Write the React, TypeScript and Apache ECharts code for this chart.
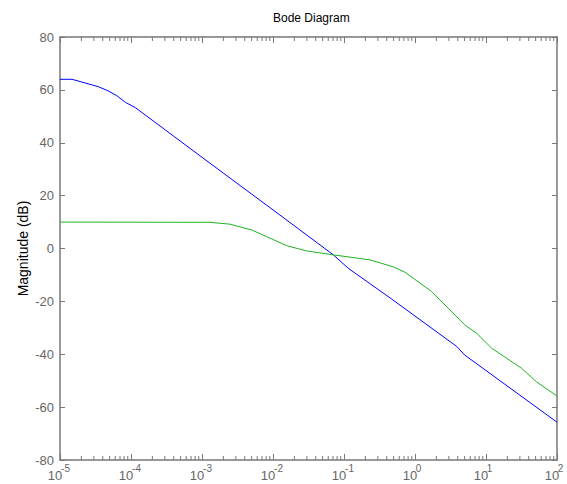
import React, { useEffect, useRef } from "react";
import * as echarts from "echarts";

// Blue curve: frequency (rad/s) and magnitude (dB)
const blueFreq = [1e-5, 1.48e-5, 3.47e-5, 4.79e-5, 6.31e-5, 8.32e-5, 1.15e-4, 1e-3, 1e-2, 7.08e-2, 1.15e-1, 4.68e-1, 3.89, 5.01, 100];
const blueDb = [64, 64, 61.2, 59.6, 57.8, 55.3, 53.3, 34.5, 14.6, -2.4, -7.5, -19.1, -37.1, -40.3, -65.7];

// Green curve
const greenFreq = [1e-5, 1.3e-3, 2.48e-3, 5.01e-3, 8.13e-3, 1.55e-2, 2.95e-2, 7.08e-2, 0.232, 0.49, 0.724, 1.72, 5.01, 7.41, 12.0, 31.6, 51.3, 100];
const greenDb = [10, 9.9, 9.2, 7.0, 4.5, 1.1, -0.9, -2.4, -4.3, -6.9, -9.0, -16.3, -28.9, -32.1, -37.7, -45.3, -50.4, -55.8];

// Axis ticks
const decadeExponents = [-5, -4, -3, -2, -1, 0, 1];
const minorMultipliers = [2, 3, 4, 5, 6, 7, 8, 9];
const minorTicks: number[] = [];
decadeExponents.forEach((e) => minorMultipliers.forEach((m) => minorTicks.push(m * Math.pow(10, e))));

const FONT = "Liberation Sans, Arial, sans-serif";
const AXIS_COLOR = "#777";
const LABEL_COLOR = "#666";

export default function App() {
  const ref = useRef<HTMLDivElement>(null);
  useEffect(() => {
    document.body.style.margin = "0";
    const chart = echarts.init(ref.current!, null, { renderer: "svg" });
    const xCommon = {
      type: "log" as const,
      logBase: 10,
      min: 1e-5,
      max: 1e2,
      splitLine: { show: false },
      axisLine: { show: true, onZero: false, lineStyle: { color: AXIS_COLOR, width: 1.5 } },
      axisTick: { show: true, inside: true, length: 6, lineStyle: { color: AXIS_COLOR } },
    };
    const yCommon = {
      type: "value" as const,
      min: -80,
      max: 80,
      interval: 20,
      splitLine: { show: false },
      axisLine: { show: true, onZero: false, lineStyle: { color: AXIS_COLOR, width: 1.5 } },
      axisTick: { show: true, inside: true, length: 5, lineStyle: { color: AXIS_COLOR } },
    };
    const expOf = (v: number) => Math.round(Math.log10(v));
    chart.setOption({
      animation: false,
      backgroundColor: "#fff",
      title: {
        text: "Bode Diagram",
        left: 268,
        top: 7,
        textStyle: { fontFamily: FONT, fontSize: 12, fontWeight: "normal", color: "#000" },
      },
      grid: { left: 60, right: 10, top: 37, bottom: 24 },
      xAxis: [
        {
          ...xCommon,
          position: "bottom",
          axisLabel: {
            show: true,
            margin: 9,
            showMinLabel: true,
            showMaxLabel: true,
            fontFamily: FONT,
            fontSize: 13,
            color: LABEL_COLOR,
            padding: [0, 10, 0, 0],
            formatter: () => "10",
          },
        },
        { ...xCommon, position: "top", axisLabel: { show: false } },
        {
          ...xCommon,
          position: "bottom",
          axisLine: { show: false, onZero: false },
          axisTick: { show: false },
          axisLabel: {
            show: true,
            margin: 3,
            showMinLabel: true,
            showMaxLabel: true,
            formatter: (v: number) => (expOf(v) < 0 ? `{n|${expOf(v)}}` : `{p|${expOf(v)}}`),
            rich: {
              n: { fontFamily: FONT, fontSize: 10, color: LABEL_COLOR, padding: [0, 0, 0, 11] },
              p: { fontFamily: FONT, fontSize: 10, color: LABEL_COLOR, padding: [0, 0, 0, 7] },
            },
          },
        },
      ],
      yAxis: [
        {
          ...yCommon,
          position: "left",
          name: "Magnitude (dB)",
          nameLocation: "middle",
          nameGap: 30,
          nameMoveOverlap: false,
          nameTextStyle: { fontFamily: FONT, fontSize: 14, color: "#000" },
          axisLabel: { fontFamily: FONT, fontSize: 13, color: LABEL_COLOR, margin: 6 },
        },
        { ...yCommon, position: "right", axisLabel: { show: false } },
      ],
      series: [
        {
          type: "line",
          data: blueFreq.map((f, i) => [f, blueDb[i]]),
          showSymbol: false,
          lineStyle: { color: "#0000ff", width: 1 },
          itemStyle: { color: "#0000ff" },
        },
        {
          type: "line",
          data: greenFreq.map((f, i) => [f, greenDb[i]]),
          showSymbol: false,
          lineStyle: { color: "#1fb31f", width: 1 },
          itemStyle: { color: "#1fb31f" },
        },
        {
          type: "custom",
          silent: true,
          data: minorTicks.map((v) => [v, 0]),
          renderItem: (params: any, api: any) => {
            const v = api.value(0);
            const b = api.coord([v, -80]);
            const t = api.coord([v, 80]);
            const style = { stroke: AXIS_COLOR, lineWidth: 1 };
            return {
              type: "group",
              children: [
                { type: "line", shape: { x1: b[0], y1: b[1], x2: b[0], y2: b[1] - 4 }, style },
                { type: "line", shape: { x1: t[0], y1: t[1], x2: t[0], y2: t[1] + 4 }, style },
              ],
            };
          },
        },
      ],
    });
    return () => chart.dispose();
  }, []);
  return <div ref={ref} style={{ width: 567, height: 484 }} />;
}
